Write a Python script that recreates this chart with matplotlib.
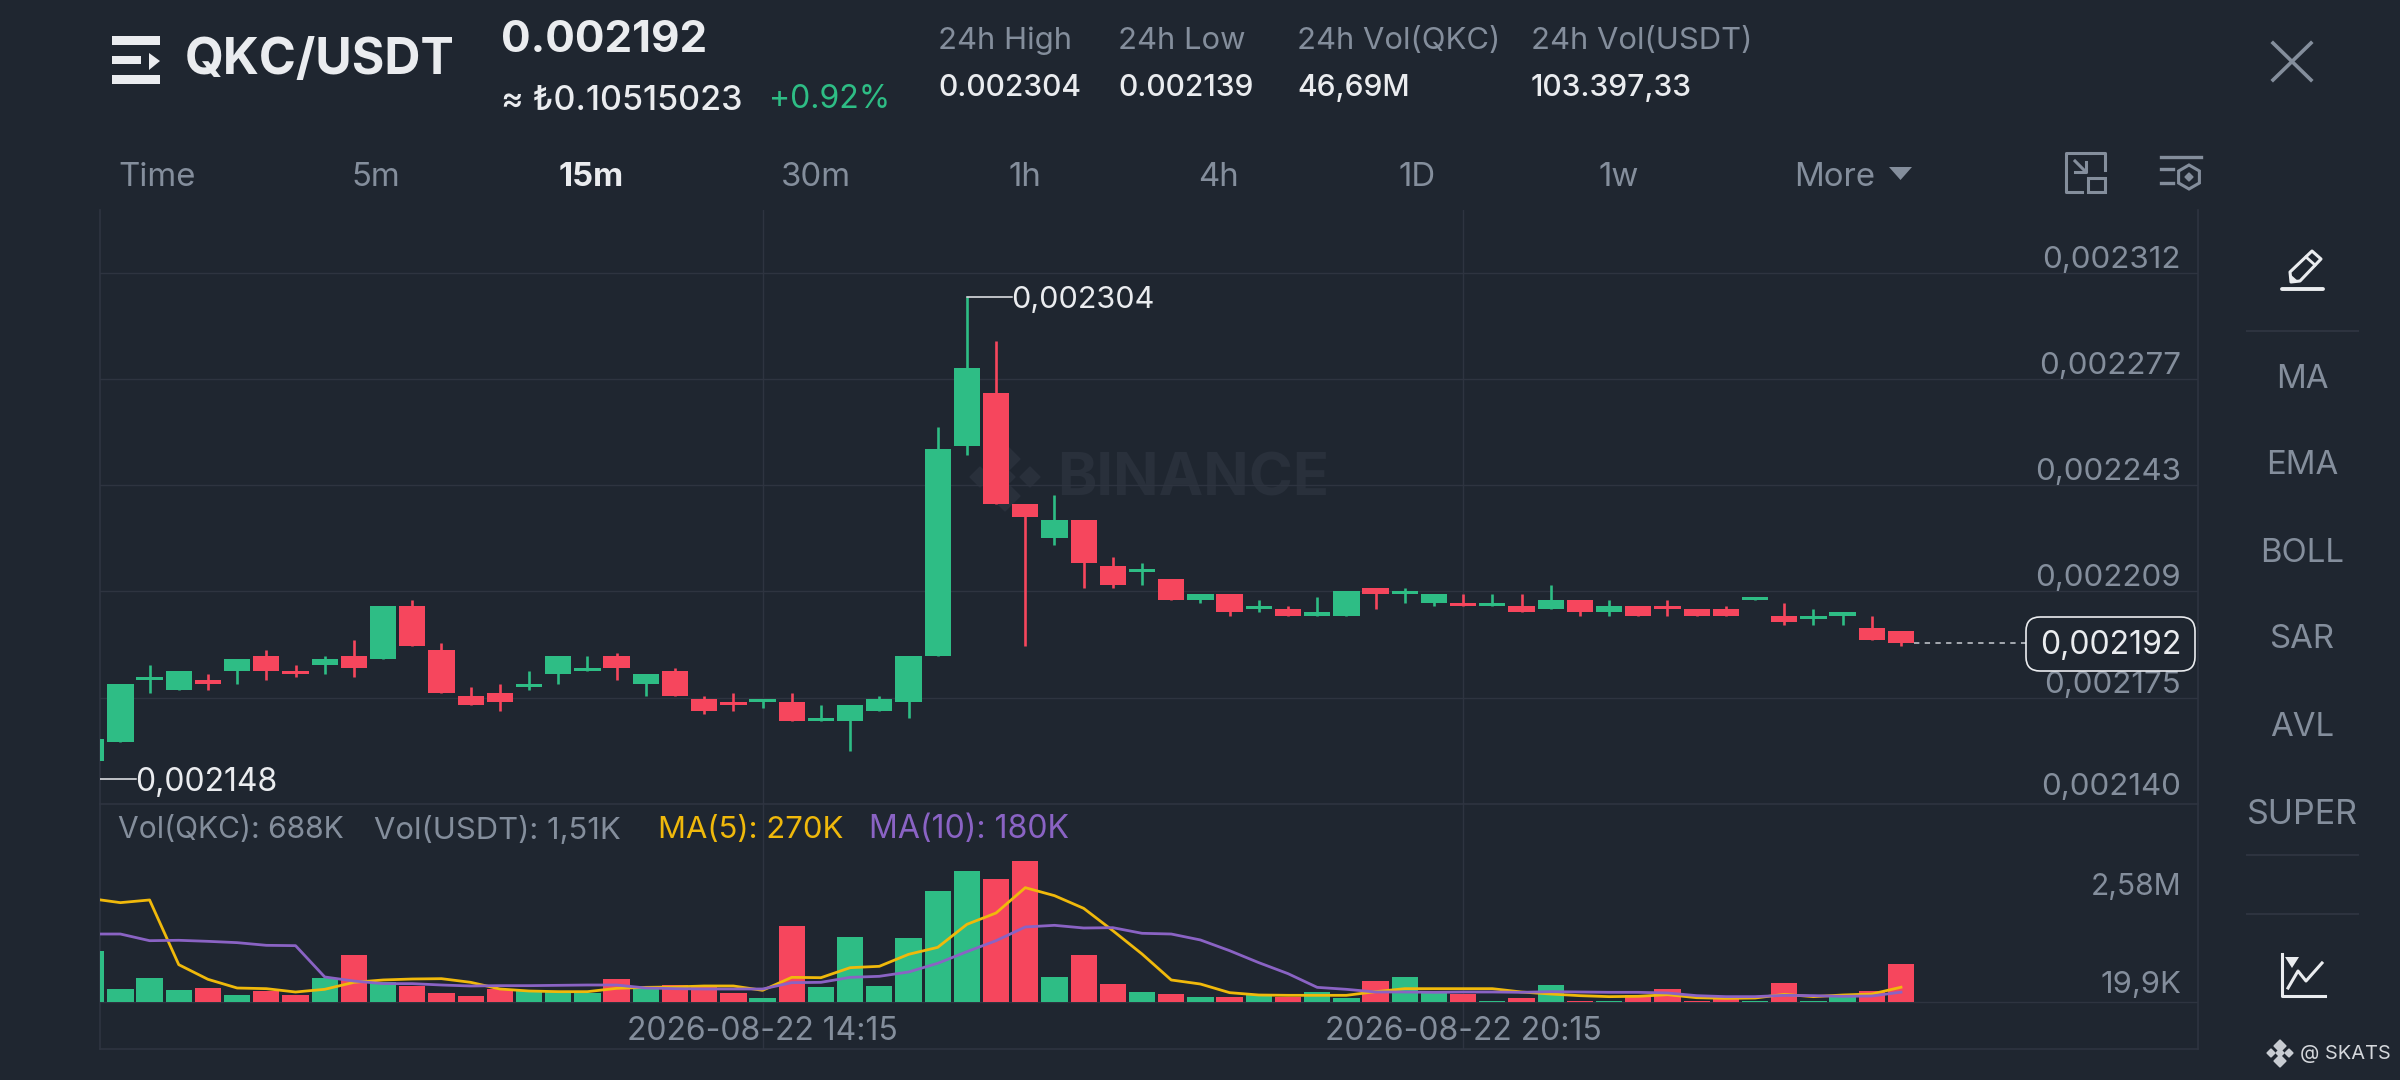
import matplotlib
matplotlib.use("Agg")
import matplotlib.pyplot as plt
from matplotlib.patches import FancyBboxPatch, Polygon, Rectangle, RegularPolygon

# prices are in millionths of USDT, 2192 means 0,002192
opens = [2154, 2160, 2180, 2177, 2180, 2183, 2188, 2183, 2185, 2188,
         2187, 2204, 2190, 2175, 2176, 2178, 2182, 2183, 2188, 2179,
         2183, 2174, 2173, 2173, 2173, 2167, 2167, 2170, 2173, 2188,
         2256, 2273, 2237, 2226, 2232, 2217, 2215, 2213, 2206, 2208,
         2203, 2203, 2201, 2201, 2210, 2208, 2205, 2205, 2204, 2204,
         2203, 2206, 2202, 2204, 2204, 2203, 2203, 2206, 2201, 2200,
         2201, 2197, 2196]
highs = [2161, 2179, 2185, 2183, 2182, 2187, 2190, 2185, 2188, 2193,
         2204, 2206, 2192, 2178, 2179, 2183, 2188, 2188, 2189, 2182,
         2184, 2175, 2176, 2174, 2176, 2172, 2172, 2175, 2188, 2262,
         2304, 2290, 2237, 2240, 2232, 2220, 2218, 2213, 2208, 2208,
         2206, 2204, 2207, 2209, 2210, 2210, 2208, 2208, 2208, 2208,
         2211, 2206, 2206, 2204, 2206, 2203, 2204, 2207, 2205, 2203,
         2202, 2201, 2196]
lows = [2148, 2160, 2176, 2177, 2177, 2179, 2180, 2181, 2182, 2181,
        2187, 2191, 2176, 2172, 2170, 2177, 2179, 2183, 2180, 2175,
        2175, 2169, 2170, 2171, 2167, 2167, 2157, 2170, 2168, 2188,
        2253, 2237, 2191, 2224, 2210, 2210, 2211, 2206, 2205, 2201,
        2202, 2201, 2201, 2201, 2203, 2205, 2204, 2204, 2204, 2202,
        2203, 2201, 2201, 2201, 2201, 2201, 2201, 2206, 2198, 2198,
        2198, 2193, 2191]
closes = [2161, 2179, 2181, 2183, 2179, 2187, 2183, 2182, 2187, 2184,
          2204, 2191, 2176, 2172, 2173, 2179, 2188, 2184, 2184, 2182,
          2175, 2170, 2172, 2174, 2167, 2168, 2172, 2174, 2188, 2255,
          2281, 2237, 2233, 2232, 2218, 2211, 2216, 2206, 2208, 2202,
          2204, 2201, 2202, 2209, 2208, 2209, 2208, 2204, 2205, 2202,
          2206, 2202, 2204, 2201, 2203, 2201, 2201, 2207, 2199, 2201,
          2202, 2193, 2192]

# volumes in thousands of QKC
volumes = [933, 238, 433, 214, 262, 128, 201, 128, 445, 854,
           366, 287, 159, 116, 232, 195, 177, 171, 415, 268,
           305, 293, 171, 73, 1397, 268, 1190, 293, 1177, 2037,
           2391, 2245, 2580, 458, 860, 336, 189, 140, 92, 85,
           122, 98, 189, 73, 378, 451, 159, 140, 20, 67,
           305, 25, 25, 122, 232, 25, 73, 20, 348, 25,
           98, 201, 688]
ma5 = [1891, 1818, 1867, 683, 415, 256, 244, 183, 232, 360,
       403, 421, 427, 360, 238, 201, 189, 189, 250, 268,
       275, 293, 293, 214, 451, 445, 628, 653, 872, 1000,
       1421, 1629, 2092, 1946, 1714, 1305, 878, 403, 329, 171,
       128, 122, 122, 122, 189, 244, 244, 244, 244, 183,
       146, 116, 98, 104, 134, 79, 67, 73, 140, 98,
       128, 146, 270]
ma10 = [1244, 1244, 1122, 1129, 1110, 1086, 1037, 1031, 458, 384,
        336, 336, 311, 293, 299, 299, 305, 311, 311, 256,
        244, 238, 238, 238, 354, 360, 451, 470, 549, 708,
        921, 1122, 1373, 1403, 1354, 1360, 1257, 1244, 1135, 939,
        720, 519, 268, 232, 183, 183, 177, 183, 183, 177,
        189, 183, 177, 177, 165, 116, 98, 98, 122, 116,
        104, 110, 180]

price_ticks = [2312, 2277.6, 2243.2, 2208.8, 2174.4, 2140]
price_labels = ["0,002312", "0,002277", "0,002243", "0,002209", "0,002175", "0,002140"]
time_ticks = [23, 47]
time_labels = ["2026-08-22 14:15", "2026-08-22 20:15"]
tabs = ["Time", "5m", "15m", "30m", "1h", "4h", "1D", "1w"]
side_items = ["MA", "EMA", "BOLL", "SAR", "AVL", "SUPER"]
stat_names = ["24h High", "24h Low", "24h Vol(QKC)", "24h Vol(USDT)"]
stat_values = ["0.002304", "0.002139", "46,69M", "103.397,33"]

BG = "#1f2630"
GRID = "#2e3440"
GRAY = "#848e9c"
WHITE = "#eaecef"
GREEN = "#2ebd85"
RED = "#f6465d"
YELLOW = "#f0b90b"
PURPLE = "#8a63c4"
MARK = "#29303b"
FONT = ["Inter", "DejaVu Sans"]
W, H = 2400, 1080

plt.rcParams["font.family"] = FONT

fig = plt.figure(figsize=(24, 10.8), dpi=100, facecolor=BG)


def pixel_axes(z):
    a = fig.add_axes([0, 0, 1, 1], zorder=z)
    a.set_xlim(0, W)
    a.set_ylim(H, 0)
    a.axis("off")
    return a


def chart_axes(top, bottom):
    a = fig.add_axes([100 / W, 1 - bottom / H, 2098 / W, (bottom - top) / H], zorder=2)
    a.patch.set_alpha(0)
    a.set_xlim(0.3015, 72.175)
    a.tick_params(length=0, labelbottom=False, labelleft=False)
    a.spines["top"].set_visible(False)
    for s in a.spines.values():
        s.set_color(GRID)
        s.set_linewidth(1.2)
    a.set_xticks(time_ticks)
    a.grid(True, color=GRID, linewidth=1)
    a.set_axisbelow(True)
    return a


under = pixel_axes(0)
ax = chart_axes(210, 804)
vol = chart_axes(804, 1049)
over = pixel_axes(5)


def text(x, y, s, size, color=GRAY, ha="left", weight="normal"):
    over.text(x, y, s, fontsize=size * 0.72, color=color, ha=ha, va="center", fontweight=weight)


# watermark
under.text(1057, 480, "BINANCE", fontsize=43, color=MARK, fontweight="bold", va="center")
for cx, cy, r in [(1005, 459, 15), (1005, 496, 15), (980, 477, 10), (1030, 477, 10), (1005, 477, 10)]:
    under.add_patch(RegularPolygon((cx, cy), 4, radius=r, color=MARK))

# candles
idx = list(range(len(opens)))
colors = [GREEN if c >= o else RED for o, c in zip(opens, closes)]
ax.vlines(idx, lows, highs, colors=colors, linewidth=1.9, zorder=3)
ax.bar(idx, [abs(c - o) for o, c in zip(opens, closes)], bottom=[min(o, c) for o, c in zip(opens, closes)],
       width=0.9, color=colors, zorder=4)
ax.set_ylim(price_ticks[-1], 2332.3)
ax.set_yticks(price_ticks)

for p, lab in zip(price_ticks, price_labels):
    off = 17 if p == price_ticks[-1] else 13
    ax.annotate(lab, (2181, p), xycoords=("figure pixels", "data"), xytext=(0, off * 0.72),
                textcoords="offset points", ha="right", va="center", color=GRAY, fontsize=22.5)

# high and low markers
hi = highs.index(max(highs))
ax.plot([hi, hi + 1.54], [highs[hi], highs[hi]], color=WHITE, lw=1.1, zorder=3)
ax.annotate("0,002304", (hi + 1.52, highs[hi]), xytext=(0, -2), textcoords="offset points",
            color=WHITE, fontsize=22, va="center")
lo = lows.index(min(lows))
ax.plot([lo, lo + 1.55], [lows[lo], lows[lo]], color=WHITE, lw=1.1, zorder=3)
ax.annotate("0,002148", (lo + 1.52, lows[lo]), xytext=(0, -2), textcoords="offset points",
            color=WHITE, fontsize=23, va="center", annotation_clip=False)

# last price
ax.plot([idx[-1] + 0.45, 66.28], [closes[-1], closes[-1]], color="#c8ccd2", lw=1.1, ls=(0, (3.5, 3.5)), zorder=3)
over.add_patch(FancyBboxPatch((2036, 627), 149, 34, boxstyle="round,pad=10,rounding_size=14",
                              fc=BG, ec=WHITE, lw=1.2))
text(2181, 646, "0,002192", 32, WHITE, ha="right")

# volume panel
vol.bar(idx, volumes, width=0.9, color=colors, zorder=3)
vol.plot(idx, ma5, color=YELLOW, lw=2, zorder=4)
vol.plot(idx, ma10, color=PURPLE, lw=2, zorder=5)
vol.set_ylim(-860, 3623)
vol.set_yticks([0])
text(2181, 887, "2,58M", 30, ha="right")
text(2181, 985, "19,9K", 31, ha="right")
text(118, 830, "Vol(QKC): 688K", 30)
text(374, 830, "Vol(USDT): 1,51K", 31)
text(658, 830, "MA(5): 270K", 31, YELLOW)
text(869, 830, "MA(10): 180K", 32, PURPLE)
for i, lab in zip(time_ticks, time_labels):
    vol.annotate(lab, (i, H - 1031), xycoords=("data", "figure pixels"), ha="center", va="center",
                 color=GRAY, fontsize=23, annotation_clip=False)

# header
for y0, y1, x1 in [(36, 45, 160), (56, 64, 141), (75, 84, 160)]:
    over.add_patch(Rectangle((112, y0), x1 - 112, y1 - y0, color=WHITE, lw=0))
over.add_patch(Polygon([(149, 53), (160, 61), (149, 70)], color=WHITE, lw=0))
text(185, 61, "QKC/USDT", 50, WHITE, weight="bold")
text(501, 40, "0.002192", 44, WHITE, weight="bold")
text(501, 101, "≈ ₺0.10515023", 34, WHITE, weight="medium")
text(769, 100, "+0.92%", 32, GREEN)
for x, name, val in zip([938, 1118, 1297, 1531], stat_names, stat_values):
    text(x, 41, name, 31)
    text(x, 88, val, 30, WHITE, weight="medium")
for x, tab in zip([157, 376, 591, 816, 1025, 1219, 1417, 1619], tabs):
    if tab == "15m":
        text(x, 177, tab, 33, WHITE, ha="center", weight="bold")
    else:
        text(x, 177, tab, 33, ha="center")
text(1794, 177, "More", 33)
over.add_patch(Polygon([(1889, 167), (1912, 167), (1900.5, 180)], color=GRAY, lw=0))
over.plot([2273, 2311], [43, 80], color=GRAY, lw=2.6)
over.plot([2311, 2273], [43, 80], color=GRAY, lw=2.6)

# expand icon
over.plot([2090, 2066, 2066, 2082], [153, 153, 192, 192], color=GRAY, lw=2.2, solid_joinstyle="round")
over.plot([2090, 2105, 2105], [153, 153, 170], color=GRAY, lw=2.2)
over.add_patch(Rectangle((2088, 178), 17, 14, fc="none", ec=GRAY, lw=2.2))
over.plot([2075, 2086], [161, 172], color=GRAY, lw=2.2)
over.plot([2086, 2086, 2075], [162, 172, 172], color=GRAY, lw=2.2)
# settings icon
over.plot([2161, 2201], [157, 157], color=GRAY, lw=2.4)
over.plot([2161, 2173], [169, 169], color=GRAY, lw=2.4)
over.plot([2161, 2173], [183, 183], color=GRAY, lw=2.4)
over.add_patch(RegularPolygon((2189, 177), 6, radius=12, fc="none", ec=GRAY, lw=2.2))
over.add_patch(RegularPolygon((2189, 177), 4, radius=4, color=GRAY))

# side bar
over.plot([2282, 2323], [289, 289], color=WHITE, lw=2.8, solid_capstyle="round")
over.add_patch(Polygon([(2291, 282), (2290, 272), (2312, 251), (2321, 259), (2300, 281)],
                       fc="none", ec=WHITE, lw=2.2, joinstyle="round"))
over.plot([2306, 2315], [257, 265], color=WHITE, lw=2)
over.add_patch(Polygon([(2291, 282), (2290, 274), (2298, 281)], color=WHITE, lw=0))
for y in [331, 855, 914]:
    over.plot([2247, 2358], [y, y], color=GRID, lw=1.4)
for y, item in zip([379, 466, 553, 640, 727, 815], side_items):
    text(2302, y, item, 34 if item == "SUPER" else 33, ha="center")
over.plot([2282, 2282, 2325], [954, 996, 996], color=WHITE, lw=2.2)
over.plot([2288, 2298, 2306, 2322], [988, 971, 981, 963], color=WHITE, lw=2.2)
over.add_patch(Polygon([(2285, 957), (2299, 957), (2292, 968)], color=WHITE, lw=0))

# footer mark
for cx, cy, r in [(2280, 1046, 6), (2280, 1061, 6), (2271, 1053, 4), (2289, 1053, 4), (2280, 1053, 4)]:
    over.add_patch(RegularPolygon((cx, cy), 4, radius=r, color="#c8ccd2"))
text(2300, 1054, "@ SKATS", 20, "#d5d8dc")

fig.savefig("out.png", dpi=100, facecolor=BG)
